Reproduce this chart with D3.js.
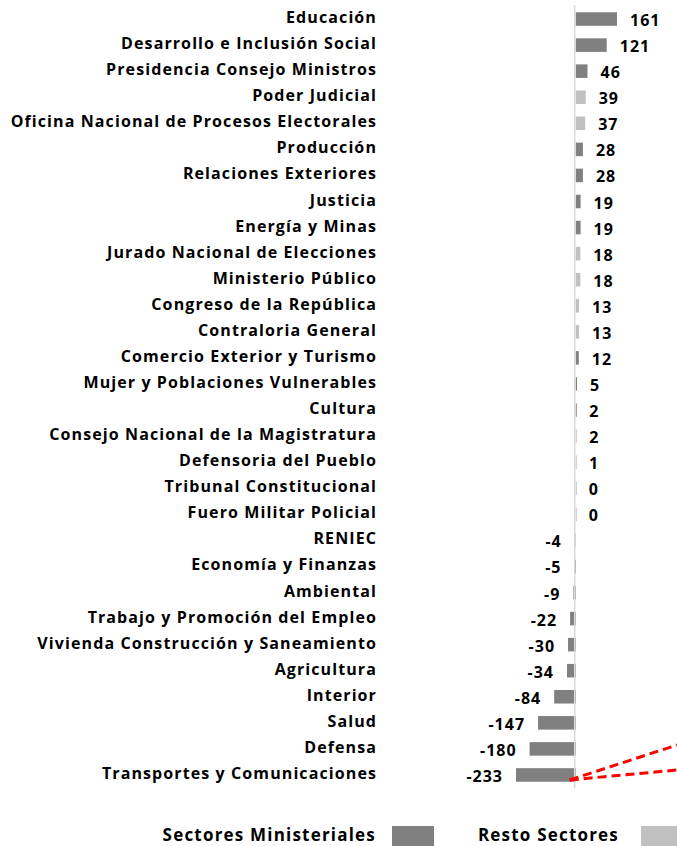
<!DOCTYPE html>
<html>
<head>
<meta charset="utf-8">
<script src="https://cdn.jsdelivr.net/npm/d3@7"></script>
<style>
  body { margin: 0; background: #fff; }
  svg { display: block; font-family: "Open Sans", Lato, sans-serif; font-weight: bold; }
  .cat-label { font-size: 16px; letter-spacing: 1.1px; fill: #000; }
  .val-label { font-size: 16px; letter-spacing: 1px; fill: #000; }
  .legend-label { font-size: 17px; letter-spacing: 1.2px; fill: #000; }
</style>
</head>
<body>
<svg></svg>
<script>
// sectors, top to bottom
var sectors = [
  "Educación", "Desarrollo e Inclusión Social", "Presidencia Consejo Ministros",
  "Poder Judicial", "Oficina Nacional de Procesos Electorales", "Producción",
  "Relaciones Exteriores", "Justicia", "Energía y Minas",
  "Jurado Nacional de Elecciones", "Ministerio Público", "Congreso de la República",
  "Contraloria General", "Comercio Exterior y Turismo", "Mujer y Poblaciones Vulnerables",
  "Cultura", "Consejo Nacional de la Magistratura", "Defensoria del Pueblo",
  "Tribunal Constitucional", "Fuero Militar Policial", "RENIEC",
  "Economía y Finanzas", "Ambiental", "Trabajo y Promoción del Empleo",
  "Vivienda Construcción y Saneamiento", "Agricultura", "Interior",
  "Salud", "Defensa", "Transportes y Comunicaciones"
];
var values = [161, 121, 46, 39, 37, 28, 28, 19, 19, 18, 18, 13, 13, 12, 5,
              2, 2, 1, 0, 0, -4, -5, -9, -22, -30, -34, -84, -147, -180, -233];
// M = Sectores Ministeriales, R = Resto Sectores
var groups = ["M", "M", "M", "R", "R", "M", "M", "M", "M", "R", "R", "R", "R", "M", "M",
              "M", "R", "R", "R", "R", "R", "M", "M", "M", "M", "M", "M", "M", "M", "M"];
var legendLabels = ["Sectores Ministeriales", "Resto Sectores"];

var data = sectors.map(function(s, i) {
  return { sector: s, value: values[i], group: groups[i] };
});

var svgWidth = 677, svgHeight = 846;
var svg = d3.select("svg").attr("width", svgWidth).attr("height", svgHeight);

var color = d3.scaleOrdinal().domain(["M", "R"]).range(["#808080", "#c0c0c0"]);

var x = d3.scaleLinear()
  .domain([d3.min(values), d3.max(values)])
  .range([516, 617]);
var y = d3.scaleBand()
  .domain(sectors)
  .range([6, 788])
  .paddingInner(0.48)
  .paddingOuter(0.24);

// category labels
svg.append("g").selectAll("text")
  .data(data).enter()
  .append("text")
  .attr("class", "cat-label")
  .attr("x", 377)
  .attr("y", d => y(d.sector) + y.bandwidth() / 2 - 2)
  .attr("text-anchor", "end")
  .attr("dominant-baseline", "central")
  .text(d => d.sector);

// bars
svg.append("g").selectAll("rect")
  .data(data).enter()
  .append("rect")
  .attr("x", d => Math.min(x(0), x(d.value)))
  .attr("y", d => y(d.sector))
  .attr("width", d => Math.max(1, Math.abs(x(d.value) - x(0))))
  .attr("height", y.bandwidth())
  .attr("fill", d => color(d.group));

// zero line
svg.append("line")
  .attr("x1", x(0) - 1).attr("x2", x(0) - 1)
  .attr("y1", 5).attr("y2", 788)
  .attr("stroke", "#d9d9d9")
  .attr("stroke-width", 1.5);

// value labels
svg.append("g").selectAll("text")
  .data(data).enter()
  .append("text")
  .attr("class", "val-label")
  .attr("x", d => d.value >= 0 ? x(d.value) + 13 : x(d.value) - 13)
  .attr("y", d => y(d.sector) + y.bandwidth() / 2 + 1)
  .attr("text-anchor", d => d.value >= 0 ? "start" : "end")
  .attr("dominant-baseline", "central")
  .text(d => d.value);

// red dashed callout from the last bar
var last = data[data.length - 1];
var cy = y(last.sector) + y.bandwidth() / 2 + 5;
[745, 770].forEach(function(endY) {
  svg.append("line")
    .attr("x1", x(0) - 6).attr("y1", cy)
    .attr("x2", svgWidth).attr("y2", endY)
    .attr("stroke", "#ff0000")
    .attr("stroke-width", 3)
    .attr("stroke-dasharray", "9,5");
});

// legend
var legend = svg.append("g");
var legendPos = [{ tx: 376, bx: 392 }, { tx: 619, bx: 641 }];
legendLabels.forEach(function(lbl, i) {
  legend.append("text")
    .attr("class", "legend-label")
    .attr("x", legendPos[i].tx)
    .attr("y", 834)
    .attr("text-anchor", "end")
    .attr("dominant-baseline", "central")
    .text(lbl);
  legend.append("rect")
    .attr("x", legendPos[i].bx)
    .attr("y", 826)
    .attr("width", 42)
    .attr("height", 22)
    .attr("fill", color(["M", "R"][i]));
});
</script>
</body>
</html>
